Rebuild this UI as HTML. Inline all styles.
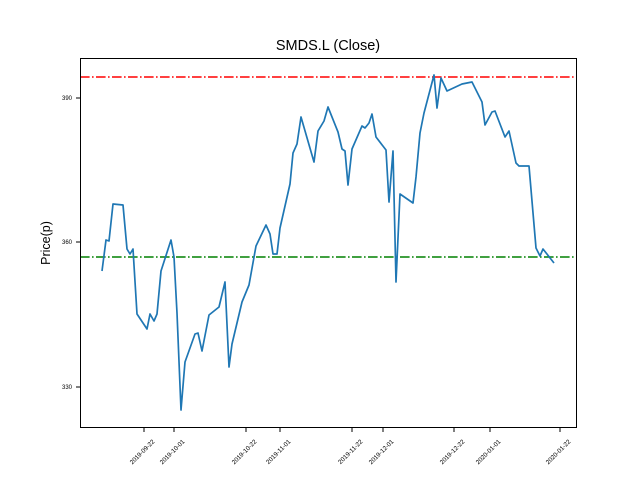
<!DOCTYPE html>
<html><head><meta charset="utf-8"><style>body{margin:0;background:#fff}svg{display:block}</style></head><body>
<svg width="640" height="480" xmlns="http://www.w3.org/2000/svg" font-family="Liberation Sans, DejaVu Sans, sans-serif">
<rect width="640" height="480" fill="#fff"/>
<text x="328" y="50" font-size="14.5" text-anchor="middle">SMDS.L (Close)</text>
<text transform="translate(50,243) rotate(-90)" font-size="12.5" text-anchor="middle">Price(p)</text>
<line x1="80" y1="77" x2="576" y2="77" stroke="#ff0000" stroke-width="1.6" stroke-dasharray="9.6,2.4,1.6,2.4"/>
<line x1="80" y1="257" x2="576" y2="257" stroke="#008000" stroke-width="1.6" stroke-dasharray="9.6,2.4,1.6,2.4"/>
<polyline fill="none" stroke="#1f77b4" stroke-width="1.7" stroke-linejoin="round" points="102,271 106,240 109,241 113,204 123,205 127,249 130,254 133,249 137,314 147,329 150,314 154,321 157,314 161,271 171,240 174,257 177,313 181,410 185,362 195,334 198,333 202,351 209,315 219,307 225,282 229,367 232,344 242,302 249,285 256,246 266,225 270,234 273,254 277,254 280,228 290,184 293,153 297,144 301,117 314,162 318,131 324,121 328,107 338,132 342,149 345,151 348,185 352,149 362,126 365,128 369,123 372,114 376,137 386,150 389,202 393,151 396,282 400,194 413,203 416,177 420,133 424,113 434,75 437,108 441,78 447,91 462,84 472,82 482,102 485,125 492,112 495,111 505,137 509,131 516,163 519,166 529,166 536,248 540,256 543,249 554,263"/>
<rect x="80.5" y="58.5" width="496" height="369" fill="none" stroke="#000" stroke-width="1"/>
<g stroke="#000" stroke-width="1">
<line x1="80" y1="98" x2="76" y2="98"/><line x1="80" y1="242" x2="76" y2="242"/><line x1="80" y1="387" x2="76" y2="387"/>
<line x1="144" y1="428" x2="144" y2="432"/><line x1="174" y1="428" x2="174" y2="432"/><line x1="246" y1="428" x2="246" y2="432"/><line x1="280" y1="428" x2="280" y2="432"/><line x1="352" y1="428" x2="352" y2="432"/><line x1="383" y1="428" x2="383" y2="432"/><line x1="454" y1="428" x2="454" y2="432"/><line x1="490" y1="428" x2="490" y2="432"/><line x1="560" y1="428" x2="560" y2="432"/>
</g>
<g font-size="6" text-anchor="end">
<text x="72" y="100">390</text><text x="72" y="244">360</text><text x="72" y="389">330</text>
</g>
<g font-size="6.3" text-anchor="end">
<text transform="translate(155,442) rotate(-45)">2019-09-22</text>
<text transform="translate(185,442) rotate(-45)">2019-10-01</text>
<text transform="translate(257,442) rotate(-45)">2019-10-22</text>
<text transform="translate(291,442) rotate(-45)">2019-11-01</text>
<text transform="translate(363,442) rotate(-45)">2019-11-22</text>
<text transform="translate(394,442) rotate(-45)">2019-12-01</text>
<text transform="translate(465,442) rotate(-45)">2019-12-22</text>
<text transform="translate(501,442) rotate(-45)">2020-01-01</text>
<text transform="translate(571,442) rotate(-45)">2020-01-22</text>
</g>
</svg>
</body></html>
